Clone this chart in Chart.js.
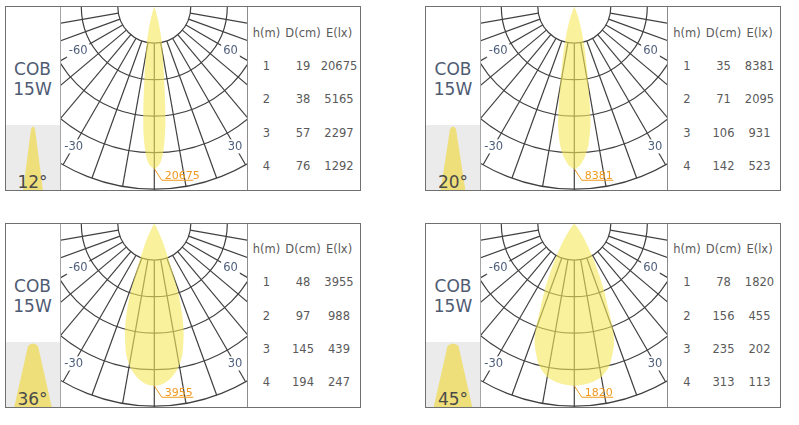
<!DOCTYPE html>
<html>
<head>
<meta charset="utf-8">
<script src="https://cdn.jsdelivr.net/npm/chart.js@4.4.1/dist/chart.umd.min.js"></script>
<style>
  html, body { margin: 0; padding: 0; background: #fff; }
  body { width: 799px; height: 425px; position: relative; overflow: hidden; font-family: "DejaVu Sans", sans-serif; }
  .panel { position: absolute; width: 354px; height: 183px; border: 1.5px solid #707070; }
  .side { position: absolute; left: 0; top: 0; width: 54px; height: 183px; border-right: 1px solid #a5a5a5; }
  .name { position: absolute; left: 0; top: 52px; width: 54px; text-align: center; font-size: 17px; line-height: 20px; color: #4f5b72; }
  .beam { position: absolute; left: 0; top: 118px; width: 54px; height: 65px; background: #ebebeb; overflow: hidden; }
  .beam svg { position: absolute; left: 0; top: 0; }
  .deg { position: absolute; left: 0; top: 47px; width: 54px; text-align: center; font-size: 17px; line-height: 20px; color: #4a4a4a; }
  canvas.polar { position: absolute; left: 55px; top: 0; }
  .data { position: absolute; left: 241px; top: 0; width: 112px; height: 183px; border-left: 1px solid #8c8c8c; }
  .cell { position: absolute; font-size: 11.5px; line-height: 13px; color: #5a5a5a; transform: translate(-50%, -50%); white-space: nowrap; }
</style>
</head>
<body>
<script>
// Данные таблиц
const heights = [1, 2, 3, 4];
const beamAngles = [12, 20, 36, 45];
const tableHeaders = ["h(m)", "D(cm)", "E(lx)"];

const diam12 = [19, 38, 57, 76];
const lux12 = [20675, 5165, 2297, 1292];
const diam20 = [35, 71, 106, 142];
const lux20 = [8381, 2095, 931, 523];
const diam36 = [48, 97, 145, 194];
const lux36 = [3955, 988, 439, 247];
const diam45 = [78, 156, 235, 313];
const lux45 = [1820, 455, 202, 113];

// Кривые силы света (угол, % от максимума)
const curveAngles12 = [0, 1, 2, 3, 4, 5, 6, 7, 8, 10, 12, 14, 16, 18, 21];
const curveRel12 = [100, 99, 97, 93, 86, 77, 65, 53, 43, 30, 22, 14, 8, 3, 0];
const curveAngles20 = [0, 2, 4, 6, 8, 10, 12, 14, 16, 18, 20, 23, 26];
const curveRel20 = [100, 98, 93, 85, 72, 51, 36, 26, 18, 12, 7, 3, 0];
const curveAngles36 = [0, 3, 6, 9, 12, 15, 17, 19, 21, 23, 25, 27, 30, 34];
const curveRel36 = [100, 99, 96, 91, 83, 70, 59, 46, 29, 18, 12, 7, 3, 0];
const curveAngles45 = [0, 5, 10, 14, 18, 20, 22, 24, 26, 28, 30, 33, 36, 40, 45];
const curveRel45 = [100, 99, 96, 90, 79, 70, 55, 45, 35, 26, 19, 12, 7, 3, 0];

// Сетка полярной диаграммы
const ringValues = [1, 2, 3, 4, 5];
const angleLines = [-80, -70, -60, -50, -40, -30, -20, -10, 0, 10, 20, 30, 40, 50, 60, 70, 80];
const angleLabels = [-60, 60, -30, 30];

// Геометрия (не данные)
const RING_PX = 36.5;      // шаг колец в пикселях
const PEAK_RING = 4.44;    // где лежит максимум кривой (в кольцах)
const CANVAS_W = 186;
const CANVAS_H = 183;
const CENTER_X = 93.3;
const CENTER_Y = -0.3;
const labelRadius = { 60: 2.41, 30: 4.42 };

const panelLayout = [
  { left: 4.5, top: 6 },
  { left: 425, top: 6 },
  { left: 4.5, top: 222.5 },
  { left: 425, top: 222.5 },
];
const iconSizes = [
  { tip: 4, base: 20 },
  { tip: 6, base: 25 },
  { tip: 10, base: 38 },
  { tip: 11, base: 39 },
];

const panels = [
  { angle: beamAngles[0], diam: diam12, lux: lux12, ca: curveAngles12, cr: curveRel12 },
  { angle: beamAngles[1], diam: diam20, lux: lux20, ca: curveAngles20, cr: curveRel20 },
  { angle: beamAngles[2], diam: diam36, lux: lux36, ca: curveAngles36, cr: curveRel36 },
  { angle: beamAngles[3], diam: diam45, lux: lux45, ca: curveAngles45, cr: curveRel45 },
];

function toXY(deg, r) {
  const a = (deg * Math.PI) / 180;
  return { x: r * Math.sin(a), y: -r * Math.cos(a) };
}

// Точки лепестка: левая половина зеркально, потом правая
function lobePoints(angles, rel) {
  const pts = [];
  for (let i = angles.length - 1; i > 0; i--) pts.push(toXY(-angles[i], (rel[i] / 100) * PEAK_RING));
  for (let i = 0; i < angles.length; i++) pts.push(toXY(angles[i], (rel[i] / 100) * PEAK_RING));
  return pts;
}

const polarGrid = {
  id: "polarGrid",
  beforeDatasetsDraw(chart) {
    const { ctx } = chart;
    const { x, y } = chart.scales;
    const cx = x.getPixelForValue(0);
    const cy = y.getPixelForValue(0);
    const unit = x.getPixelForValue(1) - cx;
    const r0 = ringValues[0] * unit;
    const r1 = ringValues[ringValues.length - 1] * unit;
    ctx.save();
    ctx.strokeStyle = "#404040";
    ctx.lineWidth = 1.2;
    ringValues.forEach((r) => {
      ctx.beginPath();
      ctx.arc(cx, cy, r * unit, 0, Math.PI);
      ctx.stroke();
    });
    angleLines.forEach((deg) => {
      const a = (deg * Math.PI) / 180;
      const end = deg === 0 ? r1 + 12 : r1;
      ctx.beginPath();
      ctx.moveTo(cx + r0 * Math.sin(a), cy + r0 * Math.cos(a));
      ctx.lineTo(cx + end * Math.sin(a), cy + end * Math.cos(a));
      ctx.stroke();
    });
    ctx.restore();
  },
  afterDatasetsDraw(chart, args, opts) {
    const { ctx } = chart;
    const { x, y } = chart.scales;
    const cx = x.getPixelForValue(0);
    const cy = y.getPixelForValue(0);
    const unit = x.getPixelForValue(1) - cx;
    ctx.save();
    ctx.font = '11.5px "DejaVu Sans"';
    ctx.textAlign = "center";
    ctx.textBaseline = "middle";
    angleLabels.forEach((deg) => {
      const r = labelRadius[Math.abs(deg)] * unit;
      const a = (deg * Math.PI) / 180;
      const lx = cx + r * Math.sin(a);
      const ly = cy + r * Math.cos(a);
      const txt = String(deg);
      const w = ctx.measureText(txt).width;
      ctx.fillStyle = "#fff";
      ctx.fillRect(lx - w / 2 - 2, ly - 7, w + 4, 14);
      ctx.fillStyle = "#50607c";
      ctx.fillText(txt, lx, ly + 0.5);
    });
    // подпись максимума
    const tipY = y.getPixelForValue(-PEAK_RING);
    ctx.strokeStyle = "#f09a1e";
    ctx.lineWidth = 1;
    ctx.beginPath();
    ctx.moveTo(cx, tipY);
    ctx.lineTo(cx + 7.5, tipY + 11.5);
    ctx.lineTo(cx + 39, tipY + 11.5);
    ctx.stroke();
    ctx.font = '11px "DejaVu Sans"';
    ctx.textAlign = "left";
    ctx.textBaseline = "alphabetic";
    ctx.fillStyle = "#f09a1e";
    ctx.fillText(String(opts.peak), cx + 10.5, tipY + 10);
    ctx.restore();
  },
};

panels.forEach((p, i) => {
  const pos = panelLayout[i];
  const panel = document.createElement("div");
  panel.className = "panel";
  panel.style.left = pos.left + "px";
  panel.style.top = pos.top + "px";

  // левая колонка
  const side = document.createElement("div");
  side.className = "side";
  side.innerHTML = '<div class="name">COB<br>15W</div>';
  const beam = document.createElement("div");
  beam.className = "beam";
  const ic = iconSizes[i];
  const c = 27;
  const d = `M ${c - ic.base / 2} 66 L ${c - ic.tip / 2} 4 Q ${c} -1 ${c + ic.tip / 2} 4 L ${c + ic.base / 2} 66 Z`;
  beam.innerHTML =
    `<svg width="54" height="65" viewBox="0 0 54 65"><path d="${d}" fill="#efdf7a"/></svg>` +
    `<div class="deg">${p.angle}°</div>`;
  side.appendChild(beam);
  panel.appendChild(side);

  // полярная диаграмма
  const canvas = document.createElement("canvas");
  canvas.className = "polar";
  canvas.width = CANVAS_W;
  canvas.height = CANVAS_H;
  canvas.style.width = CANVAS_W + "px";
  canvas.style.height = CANVAS_H + "px";
  panel.appendChild(canvas);

  // таблица
  const data = document.createElement("div");
  data.className = "data";
  const colX = [19, 55.5, 91.5];
  const rowY = [25.5, 58.5, 92, 125.5, 158.5];
  const addCell = (txt, cx, cy) => {
    const el = document.createElement("div");
    el.className = "cell";
    el.style.left = cx + "px";
    el.style.top = cy + "px";
    el.textContent = txt;
    data.appendChild(el);
  };
  tableHeaders.forEach((h, k) => addCell(h, colX[k], rowY[0]));
  heights.forEach((h, k) => {
    addCell(h, colX[0], rowY[k + 1]);
    addCell(p.diam[k], colX[1], rowY[k + 1]);
    addCell(p.lux[k], colX[2], rowY[k + 1]);
  });
  panel.appendChild(data);
  document.body.appendChild(panel);

  new Chart(canvas, {
    type: "scatter",
    data: {
      datasets: [
        {
          data: lobePoints(p.ca, p.cr),
          showLine: true,
          fill: "shape",
          backgroundColor: "rgba(247, 232, 90, 0.6)",
          borderWidth: 0,
          pointRadius: 0,
          tension: 0.25,
        },
      ],
    },
    options: {
      responsive: false,
      maintainAspectRatio: false,
      animation: false,
      events: [],
      layout: { padding: 0 },
      plugins: {
        legend: { display: false },
        tooltip: { enabled: false },
        polarGrid: { peak: p.lux[0] },
      },
      scales: {
        x: { type: "linear", display: false, min: -CENTER_X / RING_PX, max: (CANVAS_W - CENTER_X) / RING_PX },
        y: { type: "linear", display: false, min: (CENTER_Y - CANVAS_H) / RING_PX, max: CENTER_Y / RING_PX },
      },
    },
    plugins: [polarGrid],
  });
});
</script>
</body>
</html>
